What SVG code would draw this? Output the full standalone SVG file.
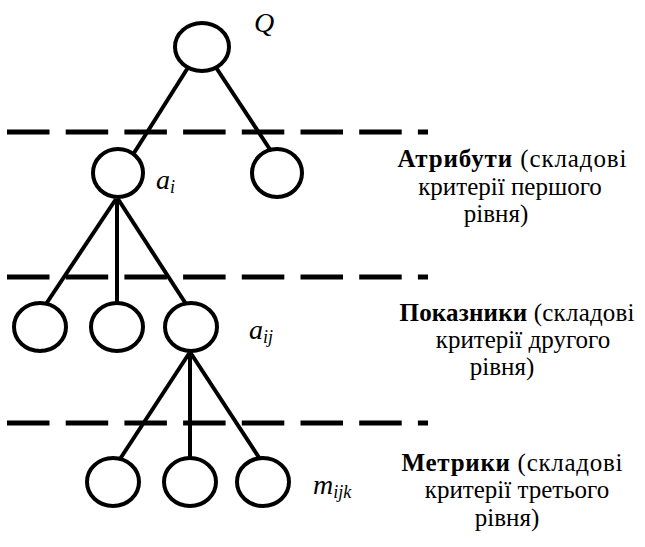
<svg xmlns="http://www.w3.org/2000/svg" width="645" height="547" viewBox="0 0 645 547">
<style>
.node{fill:#fff;stroke:#000;stroke-width:4}
.edge{stroke:#000;stroke-width:4;fill:none}
.dash{stroke:#000;stroke-width:5;stroke-dasharray:42.5 16.2;fill:none}
.math{font-family:"Liberation Serif","DejaVu Serif",serif;font-style:italic;font-size:28px;fill:#000}
.sub{font-size:18px}
.desc{font-family:"Liberation Serif","DejaVu Serif",serif;font-size:25px;fill:#000;text-anchor:middle}
.b{font-weight:bold}
</style>
<rect width="645" height="547" fill="#fff"/>
<g id="levels">
<line class="dash" x1="7" y1="132" x2="428" y2="132"/>
<line class="dash" x1="7" y1="277" x2="428" y2="277"/>
<line class="dash" x1="7" y1="423" x2="428" y2="423"/>
</g>
<g id="connectors">
<line class="edge" x1="189" y1="66" x2="134" y2="153"/>
<line class="edge" x1="215" y1="66" x2="271" y2="151"/>
<line class="edge" x1="116" y1="199" x2="46" y2="304"/>
<line class="edge" x1="117" y1="199" x2="117" y2="304"/>
<line class="edge" x1="118" y1="199" x2="186" y2="304"/>
<line class="edge" x1="190" y1="352" x2="120" y2="459"/>
<line class="edge" x1="190" y1="352" x2="190" y2="459"/>
<line class="edge" x1="190" y1="352" x2="260" y2="459"/>
</g>
<g id="node-Q"><ellipse class="node" cx="202" cy="47" rx="27" ry="24"/>
<text class="math" x="254" y="32">Q</text></g>
<g id="node-ai"><ellipse class="node" cx="118" cy="173" rx="25" ry="24"/>
<text class="math" x="156" y="189">a<tspan class="sub" dy="4">i</tspan></text></g>
<g id="node-a2"><ellipse class="node" cx="277" cy="173" rx="25" ry="24"/></g>
<g id="node-b1"><ellipse class="node" cx="40" cy="327" rx="26" ry="24"/></g>
<g id="node-b2"><ellipse class="node" cx="117" cy="327" rx="26" ry="24"/></g>
<g id="node-aij"><ellipse class="node" cx="191" cy="327" rx="26" ry="24"/>
<text class="math" x="249" y="339">a<tspan class="sub" dy="4">ij</tspan></text></g>
<g id="node-c1"><ellipse class="node" cx="113" cy="482" rx="26" ry="24"/></g>
<g id="node-c2"><ellipse class="node" cx="190" cy="482" rx="26" ry="24"/></g>
<g id="node-c3"><ellipse class="node" cx="263" cy="482" rx="26" ry="24"/>
<text class="math" x="313" y="494">m<tspan class="sub" dy="4">ijk</tspan></text></g>
<g id="label-attr">
<text class="desc" x="512" y="167" textLength="229" lengthAdjust="spacing"><tspan class="b">Атрибути</tspan> (складові</text>
<text class="desc" x="510" y="195">критерії першого</text>
<text class="desc" x="496" y="222">рівня)</text>
</g>
<g id="label-ind">
<text class="desc" x="517" y="321" textLength="235" lengthAdjust="spacing"><tspan class="b">Показники</tspan> (складові</text>
<text class="desc" x="523" y="348">критерії другого</text>
<text class="desc" x="502" y="375">рівня)</text>
</g>
<g id="label-met">
<text class="desc" x="512" y="471" textLength="221" lengthAdjust="spacing"><tspan class="b">Метрики</tspan> (складові</text>
<text class="desc" x="517" y="498">критерії третього</text>
<text class="desc" x="507" y="526">рівня)</text>
</g>
</svg>
